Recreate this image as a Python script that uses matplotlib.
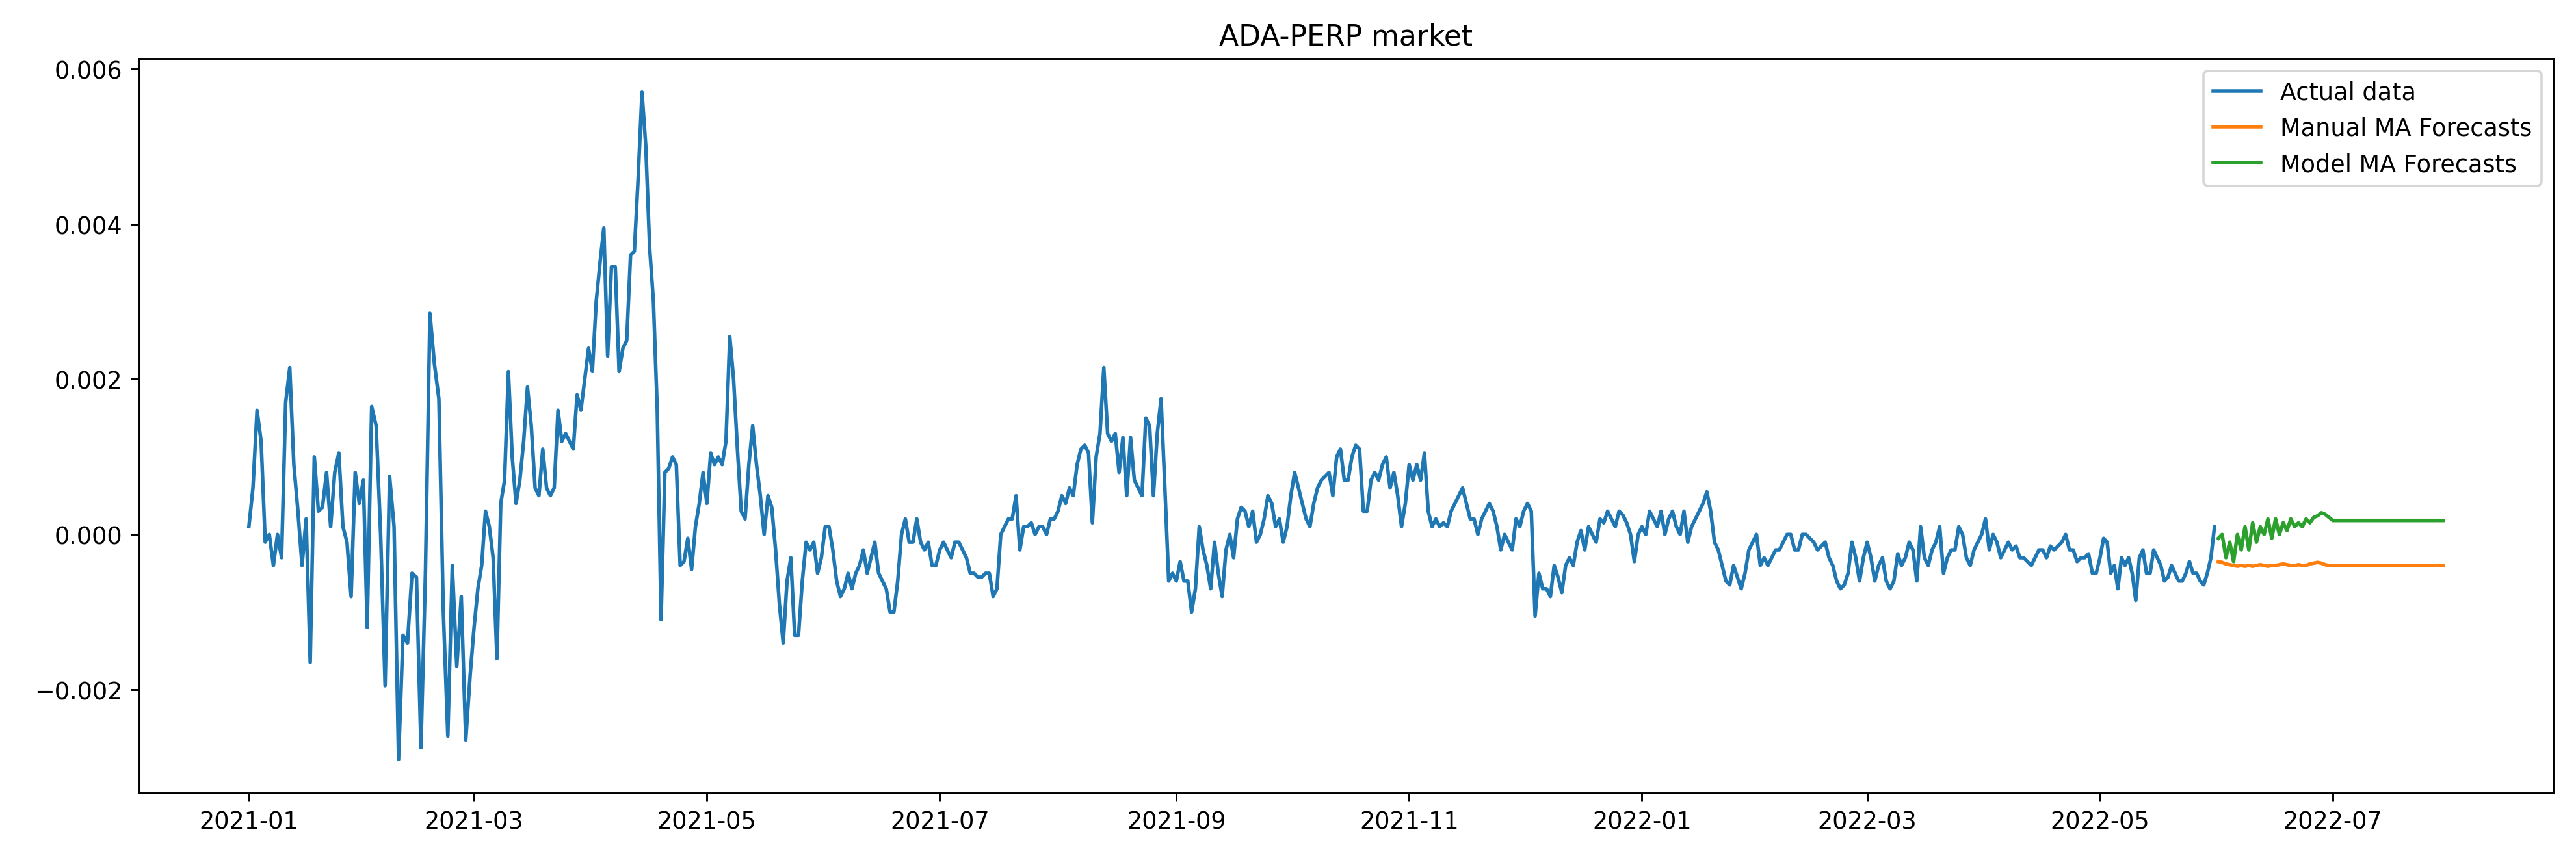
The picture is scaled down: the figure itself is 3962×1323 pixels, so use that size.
import numpy as np
import pandas as pd
import matplotlib
matplotlib.use("Agg")
import matplotlib.pyplot as plt

# monthly chunks of the actual series (units of 1e-3)
actual_by_month = [
    ("2021-01", [0.1, 0.6, 1.6, 1.2, -0.1, 0, -0.4, 0, -0.3, 1.7, 2.15, 0.9, 0.3, -0.4, 0.2, -1.65, 1.0, 0.3, 0.35, 0.8, 0.1, 0.8, 1.05, 0.1, -0.1, -0.8, 0.8, 0.4, 0.7]),
    ("2021-02", [-1.2, 1.65, 1.4, 0, -1.95, 0.75, 0.1, -2.9, -1.3, -1.4, -0.5, -0.55, -2.75, -0.5, 2.85, 2.2, 1.75, -1.0, -2.6, -0.4, -1.7, -0.8, -2.65, -1.8]),
    ("2021-03", [-1.2, -0.7, -0.4, 0.3, 0.1, -0.3, -1.6, 0.4, 0.7, 2.1, 1.0, 0.4, 0.7, 1.2, 1.9, 1.4, 0.6, 0.5, 1.1, 0.6, 0.5, 0.6, 1.6, 1.2, 1.3, 1.2, 1.1, 1.8, 1.6, 2.0, 2.4]),
    ("2021-04", [2.1, 3.0, 3.5, 3.95, 2.3, 3.45, 3.45, 2.1, 2.4, 2.5, 3.6, 3.65, 4.6, 5.7, 5.0, 3.7, 3.0, 1.6, -1.1, 0.8, 0.85, 1.0, 0.9, -0.4, -0.35, -0.05, -0.45, 0.1, 0.4, 0.8]),
    ("2021-05", [0.4, 1.05, 0.9, 1.0, 0.9, 1.2, 2.55, 2.0, 1.1, 0.3, 0.2, 0.9, 1.4, 0.9, 0.5, 0.0, 0.5, 0.35, -0.2, -0.9, -1.4, -0.6, -0.3, -1.3, -1.3, -0.6, -0.1, -0.2, -0.1, -0.5, -0.3]),
    ("2021-06", [0.1, 0.1, -0.2, -0.6, -0.8, -0.7, -0.5, -0.7, -0.5, -0.4, -0.2, -0.5, -0.3, -0.1, -0.5, -0.6, -0.7, -1.0, -1.0, -0.6, 0.0, 0.2, -0.1, -0.1, 0.2, -0.1, -0.2, -0.1, -0.4, -0.4]),
    ("2021-07", [-0.2, -0.1, -0.2, -0.3, -0.1, -0.1, -0.2, -0.3, -0.5, -0.5, -0.55, -0.55, -0.5, -0.5, -0.8, -0.7, 0.0, 0.1, 0.2, 0.2, 0.5, -0.2, 0.1, 0.1, 0.15, 0.0, 0.1, 0.1, 0.0, 0.2, 0.2]),
    ("2021-08", [0.3, 0.5, 0.4, 0.6, 0.5, 0.9, 1.1, 1.15, 1.05, 0.15, 1.0, 1.3, 2.15, 1.3, 1.2, 1.3, 0.8, 1.25, 0.5, 1.25, 0.7, 0.6, 0.5, 1.5, 1.4, 0.5, 1.3, 1.75, 0.6, -0.6, -0.5]),
    ("2021-09", [-0.6, -0.35, -0.6, -0.6, -1.0, -0.7, 0.1, -0.2, -0.4, -0.7, -0.1, -0.5, -0.8, -0.2, 0.0, -0.3, 0.2, 0.35, 0.3, 0.1, 0.3, -0.1, 0.0, 0.2, 0.5, 0.4, 0.1, 0.2, -0.1, 0.1]),
    ("2021-10", [0.5, 0.8, 0.6, 0.4, 0.2, 0.1, 0.4, 0.6, 0.7, 0.75, 0.8, 0.5, 1.0, 1.1, 0.7, 0.7, 1.0, 1.15, 1.1, 0.3, 0.3, 0.7, 0.8, 0.7, 0.9, 1.0, 0.6, 0.8, 0.5, 0.1, 0.4]),
    ("2021-11", [0.9, 0.7, 0.9, 0.7, 1.05, 0.3, 0.1, 0.2, 0.1, 0.15, 0.1, 0.3, 0.4, 0.5, 0.6, 0.4, 0.2, 0.2, 0.0, 0.2, 0.3, 0.4, 0.3, 0.1, -0.2, 0.0, -0.1, -0.2, 0.2, 0.1]),
    ("2021-12", [0.3, 0.4, 0.3, -1.05, -0.5, -0.7, -0.7, -0.8, -0.4, -0.55, -0.75, -0.4, -0.3, -0.4, -0.1, 0.05, -0.2, 0.1, 0.0, -0.1, 0.2, 0.15, 0.3, 0.2, 0.1, 0.3, 0.25, 0.15, 0.0, -0.35, 0.0]),
    ("2022-01", [0.1, 0.0, 0.3, 0.2, 0.1, 0.3, 0.0, 0.2, 0.3, 0.1, 0.0, 0.3, -0.1, 0.1, 0.2, 0.3, 0.4, 0.55, 0.3, -0.1, -0.2, -0.4, -0.6, -0.65, -0.4, -0.55, -0.7, -0.5, -0.2, -0.1, 0.0]),
    ("2022-02", [-0.4, -0.3, -0.4, -0.3, -0.2, -0.2, -0.1, 0.0, 0.0, -0.2, -0.2, 0.0, 0.0, -0.05, -0.1, -0.2, -0.15, -0.1, -0.3, -0.4, -0.6, -0.7, -0.65, -0.5, -0.1, -0.3, -0.6, -0.3]),
    ("2022-03", [-0.1, -0.3, -0.6, -0.4, -0.3, -0.6, -0.7, -0.6, -0.25, -0.4, -0.3, -0.1, -0.2, -0.6, 0.1, -0.3, -0.4, -0.2, -0.1, 0.1, -0.5, -0.3, -0.2, -0.2, 0.1, 0.0, -0.3, -0.4, -0.2, -0.1, 0.0]),
    ("2022-04", [0.2, -0.2, 0.0, -0.1, -0.3, -0.2, -0.1, -0.2, -0.15, -0.3, -0.3, -0.35, -0.4, -0.3, -0.2, -0.2, -0.3, -0.15, -0.2, -0.15, -0.1, 0.0, -0.2, -0.2, -0.35, -0.3, -0.3, -0.25, -0.5, -0.5]),
    ("2022-05", [-0.3, -0.05, -0.1, -0.5, -0.4, -0.7, -0.3, -0.4, -0.3, -0.5, -0.85, -0.3, -0.2, -0.5, -0.5, -0.2, -0.3, -0.4, -0.6, -0.55, -0.4, -0.5, -0.6, -0.6, -0.5, -0.35, -0.5, -0.5, -0.6, -0.65, -0.5, -0.3, 0.1]),
]

# forecasts, daily from 2022-06-01 (units of 1e-3); after the head the level stays flat
manual_head = [-0.35, -0.36, -0.38, -0.39, -0.40, -0.41, -0.40, -0.41, -0.40, -0.41, -0.40, -0.39, -0.40, -0.41,
               -0.40, -0.40, -0.39, -0.38, -0.39, -0.40, -0.40, -0.39, -0.40, -0.40, -0.38, -0.37, -0.36, -0.37, -0.39]
manual_level = -0.40
model_head = [-0.05, 0.0, -0.3, -0.1, -0.35, 0.0, -0.2, 0.1, -0.2, 0.15, -0.1, 0.1, 0.0, 0.2, -0.05, 0.2, 0.0,
              0.15, 0.05, 0.2, 0.1, 0.15, 0.1, 0.2, 0.15, 0.22, 0.24, 0.28, 0.26, 0.22]
model_level = 0.18
forecast_start = "2022-06-01"
forecast_days = 60

# build actual series: spread each month's values across that month
dates, vals = [], []
for month, v in actual_by_month:
    start = pd.Timestamp(month + "-01")
    end = start + pd.offsets.MonthEnd(0)
    dates.extend(pd.date_range(start, end, periods=len(v)))
    vals.extend(v)
actual = pd.Series(np.array(vals) * 1e-3, index=dates)

fc_idx = pd.date_range(forecast_start, periods=forecast_days, freq="D")
manual = pd.Series(np.array(manual_head + [manual_level] * (forecast_days - len(manual_head))) * 1e-3, index=fc_idx)
model = pd.Series(np.array(model_head + [model_level] * (forecast_days - len(model_head))) * 1e-3, index=fc_idx)

fig, ax = plt.subplots(figsize=(15.01, 5.015), dpi=264)
fig.subplots_adjust(left=0.054, right=0.991, top=0.931, bottom=0.078)
ax.plot(actual.index, actual.values, label="Actual data")
ax.plot(manual.index, manual.values, label="Manual MA Forecasts")
ax.plot(model.index, model.values, label="Model MA Forecasts")
ax.set_title("ADA-PERP market")
ax.legend(loc="upper right")
fig.savefig("out.png")
